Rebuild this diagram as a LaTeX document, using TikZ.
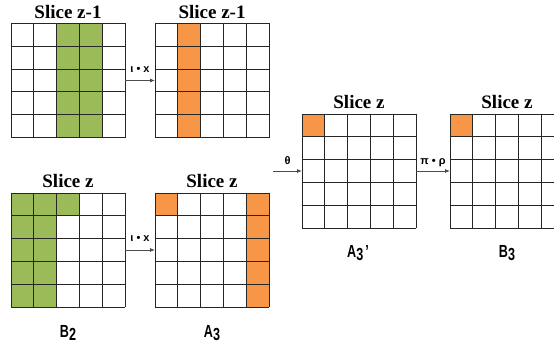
\documentclass[tikz,border=0pt]{standalone}
\usepackage{fontspec}
\setmainfont{Liberation Serif}
\newfontfamily\lblfont{Liberation Sans}
\usetikzlibrary{arrows.meta,calc}
\definecolor{cgreen}{RGB}{155,187,89}
\definecolor{corange}{RGB}{247,150,70}
\newcommand\cellfill[4]{\path[fill=#4] ($(#1.north west)+({(#2-1)*22.8},{-(#3-1)*22.8})$) rectangle ++(22.8,-22.8);}
\newcommand\gridlines[1]{%
  \begin{scope}[shift={(#1.south west)}]
    \foreach \k in {0,1,2,3,4,5}{
      \draw[cellline] ({\k*22.8},0) -- ({\k*22.8},114);
      \draw[cellline] (0,{\k*22.8}) -- (114,{\k*22.8});
    }
  \end{scope}}
\begin{document}
\begin{tikzpicture}[x=1pt,y=1pt,
  gridbox/.style={minimum width=114pt, minimum height=114pt, inner sep=0pt, outer sep=0pt, anchor=south west},
  cellline/.style={draw=black!85, line width=0.8pt, line cap=rect},
  title/.style={font=\fontsize{19}{20}\selectfont\bfseries, anchor=base, inner sep=0pt},
  gname/.style={font=\lblfont\bfseries\fontsize{17.5}{18}\selectfont, xscale=0.72, inner sep=0pt},
  oplabel/.style={font=\lblfont\bfseries\fontsize{11}{11}\selectfont, anchor=base, inner sep=0pt},
  conn/.style={draw=black!70, line width=0.8pt, -{Latex[length=5pt,width=4pt]}}
]
\useasboundingbox (0,0) rectangle (554,347);
\clip (0,0) rectangle (554,347);

% grids
\node[gridbox] (g1) at (11,209.5) {};
\node[gridbox] (g2) at (155,209.5) {};
\node[gridbox] (b2) at (11,40) {};
\node[gridbox] (a3) at (155,40) {};
\node[gridbox] (a3p) at (302,119) {};
\node[gridbox] (b3) at (450,119) {};

% fills
\foreach \r in {1,...,5}{\cellfill{g1}{3}{\r}{cgreen}\cellfill{g1}{4}{\r}{cgreen}}
\foreach \r in {1,...,5}{\cellfill{g2}{2}{\r}{corange}}
\cellfill{b2}{3}{1}{cgreen}
\foreach \r in {1,...,5}{\cellfill{b2}{1}{\r}{cgreen}\cellfill{b2}{2}{\r}{cgreen}}
\cellfill{a3}{1}{1}{corange}
\foreach \r in {1,...,5}{\cellfill{a3}{5}{\r}{corange}}
\cellfill{a3p}{1}{1}{corange}
\cellfill{b3}{1}{1}{corange}

% lines
\gridlines{g1}\gridlines{g2}\gridlines{b2}\gridlines{a3}\gridlines{a3p}\gridlines{b3}

% titles
\node[title] (t1) at ([yshift=5]g1.north) {Slice z-1};
\node[title] (t2) at ([yshift=5]g2.north) {Slice z-1};
\node[title] (t3) at ([yshift=5]b2.north) {Slice z};
\node[title] (t4) at ([yshift=5]a3.north) {Slice z};
\node[title] (t5) at ([yshift=5]a3p.north) {Slice z};
\node[title] (t6) at ([yshift=5]b3.north) {Slice z};

% names
\node[gname] (nb2) at ([yshift=-26]b2.south) {B\raisebox{-3pt}{2}};
\node[gname] (na3) at ([yshift=-26]a3.south) {A\raisebox{-3pt}{3}};
\node[gname] (na3p) at ([xshift=-1,yshift=-25]a3p.south) {A\raisebox{-3pt}{3}\,’};
\node[gname] (nb3) at ([yshift=-25]b3.south) {B\raisebox{-3pt}{3}};

% connectors
\coordinate (tstart) at (273,176);
\draw[conn] (g1.east) -- (g2.west) node[midway, oplabel, yshift=8] {ι • x};
\draw[conn] (b2.east) -- (a3.west) node[midway, oplabel, yshift=8] {ι • x};
\draw[conn] (tstart) -- (a3p.west) node[midway, oplabel, yshift=6] {θ};
\draw[conn] (a3p.east) -- (b3.west) node[midway, oplabel, yshift=6] {π • ρ};
\end{tikzpicture}
\end{document}
